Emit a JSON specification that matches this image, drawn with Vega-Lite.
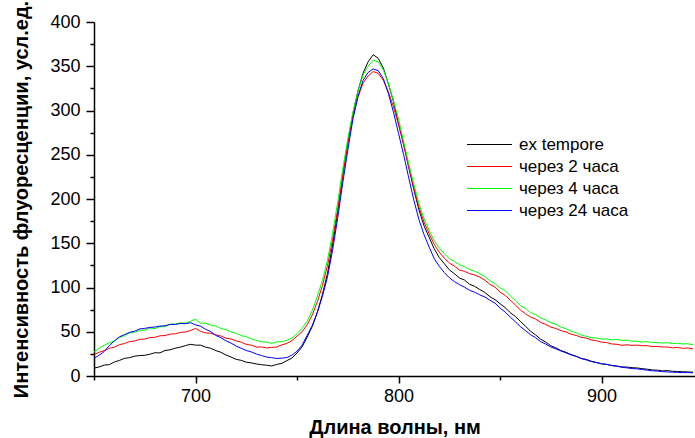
{
"$schema": "https://vega.github.io/schema/vega-lite/v6.json",
"width": 601, "height": 354,
"autosize": "none",
"padding": {"left": 94, "top": 22, "right": 0, "bottom": 62},
"background": "white",
"config": {"view": {"stroke": null}, "font": "Liberation Sans",
 "axis": {"grid": false, "domainColor": "#000", "tickColor": "#000", "labelColor": "#000", "titleColor": "#000", "labelFont": "Liberation Sans", "titleFont": "Liberation Sans", "domainWidth": 1.5, "tickWidth": 1.5, "labelFontSize": 18, "titleFontSize": 20, "titleFontWeight": "bold"}},
"data": {"values": [
{"w":650,"s":"ex tempore","v":9},{"w":652.5,"s":"ex tempore","v":10.2},{"w":655,"s":"ex tempore","v":12.3},{"w":657.5,"s":"ex tempore","v":12.8},{"w":660,"s":"ex tempore","v":15.8},{"w":662.5,"s":"ex tempore","v":17.6},{"w":665,"s":"ex tempore","v":19.9},{"w":667.5,"s":"ex tempore","v":20.7},{"w":670,"s":"ex tempore","v":22.4},{"w":672.5,"s":"ex tempore","v":23.1},{"w":675,"s":"ex tempore","v":23.4},{"w":677.5,"s":"ex tempore","v":24.6},{"w":680,"s":"ex tempore","v":26.3},{"w":682.5,"s":"ex tempore","v":26.1},{"w":685,"s":"ex tempore","v":28.9},{"w":687.5,"s":"ex tempore","v":29.6},{"w":690,"s":"ex tempore","v":31.4},{"w":692.5,"s":"ex tempore","v":32.6},{"w":695,"s":"ex tempore","v":34.3},{"w":697.5,"s":"ex tempore","v":35.8},{"w":700,"s":"ex tempore","v":34.9},{"w":702.5,"s":"ex tempore","v":34.8},{"w":705,"s":"ex tempore","v":32.6},{"w":707.5,"s":"ex tempore","v":31.3},{"w":710,"s":"ex tempore","v":28.7},{"w":712.5,"s":"ex tempore","v":26.8},{"w":715,"s":"ex tempore","v":23.7},{"w":717.5,"s":"ex tempore","v":21.4},{"w":720,"s":"ex tempore","v":18.8},{"w":722.5,"s":"ex tempore","v":17.7},{"w":725,"s":"ex tempore","v":15.6},{"w":727.5,"s":"ex tempore","v":14.8},{"w":730,"s":"ex tempore","v":13.6},{"w":732.5,"s":"ex tempore","v":12.7},{"w":735,"s":"ex tempore","v":12.2},{"w":737.5,"s":"ex tempore","v":11.3},{"w":740,"s":"ex tempore","v":13.1},{"w":742.5,"s":"ex tempore","v":14.3},{"w":745,"s":"ex tempore","v":17.4},{"w":747.5,"s":"ex tempore","v":20.2},{"w":750,"s":"ex tempore","v":26},{"w":752.5,"s":"ex tempore","v":33},{"w":755,"s":"ex tempore","v":44},{"w":757.5,"s":"ex tempore","v":56},{"w":760,"s":"ex tempore","v":72},{"w":762.5,"s":"ex tempore","v":92},{"w":765,"s":"ex tempore","v":116},{"w":767.5,"s":"ex tempore","v":148},{"w":770,"s":"ex tempore","v":185},{"w":772.5,"s":"ex tempore","v":226},{"w":775,"s":"ex tempore","v":264},{"w":777.5,"s":"ex tempore","v":296},{"w":780,"s":"ex tempore","v":322},{"w":782.5,"s":"ex tempore","v":342},{"w":785,"s":"ex tempore","v":355},{"w":787.5,"s":"ex tempore","v":363},{"w":790,"s":"ex tempore","v":359},{"w":792.5,"s":"ex tempore","v":348},{"w":795,"s":"ex tempore","v":330},{"w":797.5,"s":"ex tempore","v":310},{"w":800,"s":"ex tempore","v":285},{"w":802.5,"s":"ex tempore","v":262},{"w":805,"s":"ex tempore","v":236},{"w":807.5,"s":"ex tempore","v":211},{"w":810,"s":"ex tempore","v":188},{"w":812.5,"s":"ex tempore","v":170},{"w":815,"s":"ex tempore","v":157},{"w":817.5,"s":"ex tempore","v":144},{"w":820,"s":"ex tempore","v":134},{"w":822.5,"s":"ex tempore","v":127},{"w":825,"s":"ex tempore","v":120},{"w":827.5,"s":"ex tempore","v":115.6},{"w":830,"s":"ex tempore","v":110.7},{"w":832.5,"s":"ex tempore","v":108.4},{"w":835,"s":"ex tempore","v":103.6},{"w":837.5,"s":"ex tempore","v":101.3},{"w":840,"s":"ex tempore","v":97.7},{"w":842.5,"s":"ex tempore","v":94.4},{"w":845,"s":"ex tempore","v":89.6},{"w":847.5,"s":"ex tempore","v":86.3},{"w":850,"s":"ex tempore","v":81.6},{"w":852.5,"s":"ex tempore","v":77.3},{"w":855,"s":"ex tempore","v":71.6},{"w":857.5,"s":"ex tempore","v":67.4},{"w":860,"s":"ex tempore","v":61.7},{"w":862.5,"s":"ex tempore","v":56.3},{"w":865,"s":"ex tempore","v":50.6},{"w":867.5,"s":"ex tempore","v":46.4},{"w":870,"s":"ex tempore","v":41.6},{"w":872.5,"s":"ex tempore","v":38.3},{"w":875,"s":"ex tempore","v":34.2},{"w":877.5,"s":"ex tempore","v":31.8},{"w":880,"s":"ex tempore","v":28.7},{"w":882.5,"s":"ex tempore","v":26.8},{"w":885,"s":"ex tempore","v":24.2},{"w":887.5,"s":"ex tempore","v":22.3},{"w":890,"s":"ex tempore","v":19.7},{"w":892.5,"s":"ex tempore","v":18.8},{"w":895,"s":"ex tempore","v":16.6},{"w":897.5,"s":"ex tempore","v":15.3},{"w":900,"s":"ex tempore","v":13.7},{"w":902.5,"s":"ex tempore","v":13.2},{"w":905,"s":"ex tempore","v":11.8},{"w":907.5,"s":"ex tempore","v":11.2},{"w":910,"s":"ex tempore","v":10.3},{"w":912.5,"s":"ex tempore","v":10.1},{"w":915,"s":"ex tempore","v":9.4},{"w":917.5,"s":"ex tempore","v":9.1},{"w":920,"s":"ex tempore","v":8.3},{"w":922.5,"s":"ex tempore","v":7.7},{"w":925,"s":"ex tempore","v":6.8},{"w":927.5,"s":"ex tempore","v":6.6},{"w":930,"s":"ex tempore","v":5.8},{"w":932.5,"s":"ex tempore","v":6.1},{"w":935,"s":"ex tempore","v":5.3},{"w":937.5,"s":"ex tempore","v":5.1},{"w":940,"s":"ex tempore","v":4.8},{"w":942.5,"s":"ex tempore","v":4.6},{"w":945,"s":"ex tempore","v":4.3},
{"w":650,"s":"через 2 часа","v":24},{"w":652.5,"s":"через 2 часа","v":26.8},{"w":655,"s":"через 2 часа","v":28.7},{"w":657.5,"s":"через 2 часа","v":31.3},{"w":660,"s":"через 2 часа","v":32.6},{"w":662.5,"s":"через 2 часа","v":35.4},{"w":665,"s":"через 2 часа","v":36.7},{"w":667.5,"s":"через 2 часа","v":38.9},{"w":670,"s":"через 2 часа","v":39.6},{"w":672.5,"s":"через 2 часа","v":41.4},{"w":675,"s":"через 2 часа","v":41.7},{"w":677.5,"s":"через 2 часа","v":43.4},{"w":680,"s":"через 2 часа","v":43.7},{"w":682.5,"s":"через 2 часа","v":45.4},{"w":685,"s":"через 2 часа","v":45.7},{"w":687.5,"s":"через 2 часа","v":47.4},{"w":690,"s":"через 2 часа","v":47.6},{"w":692.5,"s":"через 2 часа","v":49.3},{"w":695,"s":"через 2 часа","v":49.7},{"w":697.5,"s":"через 2 часа","v":51.4},{"w":700,"s":"через 2 часа","v":53.8},{"w":702.5,"s":"через 2 часа","v":50.3},{"w":705,"s":"через 2 часа","v":48.7},{"w":707.5,"s":"через 2 часа","v":48.3},{"w":710,"s":"через 2 часа","v":46.6},{"w":712.5,"s":"через 2 часа","v":45.2},{"w":715,"s":"через 2 часа","v":42.7},{"w":717.5,"s":"через 2 часа","v":41.8},{"w":720,"s":"через 2 часа","v":39.6},{"w":722.5,"s":"через 2 часа","v":38.3},{"w":725,"s":"через 2 часа","v":35.7},{"w":727.5,"s":"через 2 часа","v":34.8},{"w":730,"s":"через 2 часа","v":32.7},{"w":732.5,"s":"через 2 часа","v":32.8},{"w":735,"s":"через 2 часа","v":31.7},{"w":737.5,"s":"через 2 часа","v":32.3},{"w":740,"s":"через 2 часа","v":32.8},{"w":742.5,"s":"через 2 часа","v":35.2},{"w":745,"s":"через 2 часа","v":36.8},{"w":747.5,"s":"через 2 часа","v":40},{"w":750,"s":"через 2 часа","v":45},{"w":752.5,"s":"через 2 часа","v":50},{"w":755,"s":"через 2 часа","v":58},{"w":757.5,"s":"через 2 часа","v":69},{"w":760,"s":"через 2 часа","v":84},{"w":762.5,"s":"через 2 часа","v":102},{"w":765,"s":"через 2 часа","v":125},{"w":767.5,"s":"через 2 часа","v":154},{"w":770,"s":"через 2 часа","v":188},{"w":772.5,"s":"через 2 часа","v":226},{"w":775,"s":"через 2 часа","v":262},{"w":777.5,"s":"через 2 часа","v":292},{"w":780,"s":"через 2 часа","v":315},{"w":782.5,"s":"через 2 часа","v":331},{"w":785,"s":"через 2 часа","v":339},{"w":787.5,"s":"через 2 часа","v":344},{"w":790,"s":"через 2 часа","v":342},{"w":792.5,"s":"через 2 часа","v":334},{"w":795,"s":"через 2 часа","v":321},{"w":797.5,"s":"через 2 часа","v":304},{"w":800,"s":"через 2 часа","v":284},{"w":802.5,"s":"через 2 часа","v":261},{"w":805,"s":"через 2 часа","v":236},{"w":807.5,"s":"через 2 часа","v":213},{"w":810,"s":"через 2 часа","v":191},{"w":812.5,"s":"через 2 часа","v":174},{"w":815,"s":"через 2 часа","v":161},{"w":817.5,"s":"через 2 часа","v":149},{"w":820,"s":"через 2 часа","v":140},{"w":822.5,"s":"через 2 часа","v":133.3},{"w":825,"s":"через 2 часа","v":127.6},{"w":827.5,"s":"через 2 часа","v":124.2},{"w":830,"s":"через 2 часа","v":119.7},{"w":832.5,"s":"через 2 часа","v":118.3},{"w":835,"s":"через 2 часа","v":115.6},{"w":837.5,"s":"через 2 часа","v":114.2},{"w":840,"s":"через 2 часа","v":111.7},{"w":842.5,"s":"через 2 часа","v":108.3},{"w":845,"s":"через 2 часа","v":103.6},{"w":847.5,"s":"через 2 часа","v":100.3},{"w":850,"s":"через 2 часа","v":94.7},{"w":852.5,"s":"через 2 часа","v":91.2},{"w":855,"s":"через 2 часа","v":85.6},{"w":857.5,"s":"через 2 часа","v":80.3},{"w":860,"s":"через 2 часа","v":74.6},{"w":862.5,"s":"через 2 часа","v":70.3},{"w":865,"s":"через 2 часа","v":66.6},{"w":867.5,"s":"через 2 часа","v":64.3},{"w":870,"s":"через 2 часа","v":60.6},{"w":872.5,"s":"через 2 часа","v":58.3},{"w":875,"s":"через 2 часа","v":55.2},{"w":877.5,"s":"через 2 часа","v":53.7},{"w":880,"s":"через 2 часа","v":51.2},{"w":882.5,"s":"через 2 часа","v":49.8},{"w":885,"s":"через 2 часа","v":47.2},{"w":887.5,"s":"через 2 часа","v":45.8},{"w":890,"s":"через 2 часа","v":43.7},{"w":892.5,"s":"через 2 часа","v":42.8},{"w":895,"s":"через 2 часа","v":40.7},{"w":897.5,"s":"через 2 часа","v":39.8},{"w":900,"s":"через 2 часа","v":38.2},{"w":902.5,"s":"через 2 часа","v":37.8},{"w":905,"s":"через 2 часа","v":36.2},{"w":907.5,"s":"через 2 часа","v":35.8},{"w":910,"s":"через 2 часа","v":34.7},{"w":912.5,"s":"через 2 часа","v":35.3},{"w":915,"s":"через 2 часа","v":34.6},{"w":917.5,"s":"через 2 часа","v":34.9},{"w":920,"s":"через 2 часа","v":34.2},{"w":922.5,"s":"через 2 часа","v":34.3},{"w":925,"s":"через 2 часа","v":33.2},{"w":927.5,"s":"через 2 часа","v":33.4},{"w":930,"s":"через 2 часа","v":32.7},{"w":932.5,"s":"через 2 часа","v":32.8},{"w":935,"s":"через 2 часа","v":31.8},{"w":937.5,"s":"через 2 часа","v":32.2},{"w":940,"s":"через 2 часа","v":31.3},{"w":942.5,"s":"через 2 часа","v":31.7},{"w":945,"s":"через 2 часа","v":30.8},
{"w":650,"s":"через 4 часа","v":27},{"w":652.5,"s":"через 4 часа","v":31.5},{"w":655,"s":"через 4 часа","v":34.6},{"w":657.5,"s":"через 4 часа","v":37.8},{"w":660,"s":"через 4 часа","v":39.4},{"w":662.5,"s":"через 4 часа","v":43.6},{"w":665,"s":"через 4 часа","v":45.5},{"w":667.5,"s":"через 4 часа","v":48.7},{"w":670,"s":"через 4 часа","v":49.4},{"w":672.5,"s":"через 4 часа","v":51.6},{"w":675,"s":"через 4 часа","v":51.8},{"w":677.5,"s":"через 4 часа","v":54.2},{"w":680,"s":"через 4 часа","v":53.6},{"w":682.5,"s":"через 4 часа","v":55.8},{"w":685,"s":"через 4 часа","v":55.7},{"w":687.5,"s":"через 4 часа","v":58.6},{"w":690,"s":"через 4 часа","v":58.7},{"w":692.5,"s":"через 4 часа","v":60.1},{"w":695,"s":"через 4 часа","v":59.6},{"w":697.5,"s":"через 4 часа","v":61.8},{"w":700,"s":"через 4 часа","v":64.3},{"w":702.5,"s":"через 4 часа","v":59.8},{"w":705,"s":"через 4 часа","v":59.6},{"w":707.5,"s":"через 4 часа","v":57.6},{"w":710,"s":"через 4 часа","v":56.5},{"w":712.5,"s":"через 4 часа","v":53.7},{"w":715,"s":"через 4 часа","v":52.4},{"w":717.5,"s":"через 4 часа","v":49.8},{"w":720,"s":"через 4 часа","v":48.3},{"w":722.5,"s":"через 4 часа","v":45.6},{"w":725,"s":"через 4 часа","v":44.4},{"w":727.5,"s":"через 4 часа","v":41.7},{"w":730,"s":"через 4 часа","v":40.3},{"w":732.5,"s":"через 4 часа","v":38.6},{"w":735,"s":"через 4 часа","v":38.4},{"w":737.5,"s":"через 4 часа","v":36.8},{"w":740,"s":"через 4 часа","v":38.5},{"w":742.5,"s":"через 4 часа","v":38.8},{"w":745,"s":"через 4 часа","v":40.4},{"w":747.5,"s":"через 4 часа","v":43},{"w":750,"s":"через 4 часа","v":48},{"w":752.5,"s":"через 4 часа","v":54},{"w":755,"s":"через 4 часа","v":62},{"w":757.5,"s":"через 4 часа","v":74},{"w":760,"s":"через 4 часа","v":90},{"w":762.5,"s":"через 4 часа","v":108},{"w":765,"s":"через 4 часа","v":131},{"w":767.5,"s":"через 4 часа","v":161},{"w":770,"s":"через 4 часа","v":196},{"w":772.5,"s":"через 4 часа","v":234},{"w":775,"s":"через 4 часа","v":268},{"w":777.5,"s":"через 4 часа","v":298},{"w":780,"s":"через 4 часа","v":322},{"w":782.5,"s":"через 4 часа","v":340},{"w":785,"s":"через 4 часа","v":350},{"w":787.5,"s":"через 4 часа","v":357},{"w":790,"s":"через 4 часа","v":355},{"w":792.5,"s":"через 4 часа","v":346},{"w":795,"s":"через 4 часа","v":330},{"w":797.5,"s":"через 4 часа","v":311},{"w":800,"s":"через 4 часа","v":290},{"w":802.5,"s":"через 4 часа","v":265},{"w":805,"s":"через 4 часа","v":240},{"w":807.5,"s":"через 4 часа","v":217},{"w":810,"s":"через 4 часа","v":195},{"w":812.5,"s":"через 4 часа","v":178},{"w":815,"s":"через 4 часа","v":165},{"w":817.5,"s":"через 4 часа","v":153},{"w":820,"s":"через 4 часа","v":145},{"w":822.5,"s":"через 4 часа","v":138.4},{"w":825,"s":"через 4 часа","v":132.6},{"w":827.5,"s":"через 4 часа","v":129.4},{"w":830,"s":"через 4 часа","v":125.7},{"w":832.5,"s":"через 4 часа","v":123.4},{"w":835,"s":"через 4 часа","v":120.2},{"w":837.5,"s":"через 4 часа","v":118.5},{"w":840,"s":"через 4 часа","v":115.6},{"w":842.5,"s":"через 4 часа","v":112.4},{"w":845,"s":"через 4 часа","v":107.6},{"w":847.5,"s":"через 4 часа","v":104.3},{"w":850,"s":"через 4 часа","v":99.6},{"w":852.5,"s":"через 4 часа","v":96.4},{"w":855,"s":"через 4 часа","v":90.6},{"w":857.5,"s":"через 4 часа","v":85.4},{"w":860,"s":"через 4 часа","v":79.6},{"w":862.5,"s":"через 4 часа","v":76.3},{"w":865,"s":"через 4 часа","v":71.7},{"w":867.5,"s":"через 4 часа","v":69.4},{"w":870,"s":"через 4 часа","v":65.6},{"w":872.5,"s":"через 4 часа","v":63.4},{"w":875,"s":"через 4 часа","v":60.2},{"w":877.5,"s":"через 4 часа","v":58.4},{"w":880,"s":"через 4 часа","v":55.2},{"w":882.5,"s":"через 4 часа","v":53.4},{"w":885,"s":"через 4 часа","v":50.6},{"w":887.5,"s":"через 4 часа","v":48.9},{"w":890,"s":"через 4 часа","v":46.2},{"w":892.5,"s":"через 4 часа","v":44.8},{"w":895,"s":"через 4 часа","v":43.2},{"w":897.5,"s":"через 4 часа","v":42.9},{"w":900,"s":"через 4 часа","v":41.7},{"w":902.5,"s":"через 4 часа","v":41.9},{"w":905,"s":"через 4 часа","v":40.7},{"w":907.5,"s":"через 4 часа","v":41.4},{"w":910,"s":"через 4 часа","v":40.2},{"w":912.5,"s":"через 4 часа","v":40.5},{"w":915,"s":"через 4 часа","v":39.2},{"w":917.5,"s":"через 4 часа","v":39.4},{"w":920,"s":"через 4 часа","v":38.3},{"w":922.5,"s":"через 4 часа","v":38.9},{"w":925,"s":"через 4 часа","v":37.7},{"w":927.5,"s":"через 4 часа","v":37.9},{"w":930,"s":"через 4 часа","v":37.2},{"w":932.5,"s":"через 4 часа","v":37.6},{"w":935,"s":"через 4 часа","v":36.7},{"w":937.5,"s":"через 4 часа","v":37.1},{"w":940,"s":"через 4 часа","v":36.2},{"w":942.5,"s":"через 4 часа","v":36.5},{"w":945,"s":"через 4 часа","v":35.2},
{"w":650,"s":"через 24 часа","v":20},{"w":652.5,"s":"через 24 часа","v":23.4},{"w":655,"s":"через 24 часа","v":27.6},{"w":657.5,"s":"через 24 часа","v":34.3},{"w":660,"s":"через 24 часа","v":39.6},{"w":662.5,"s":"через 24 часа","v":44.2},{"w":665,"s":"через 24 часа","v":46.7},{"w":667.5,"s":"через 24 часа","v":49.3},{"w":670,"s":"через 24 часа","v":50.6},{"w":672.5,"s":"через 24 часа","v":53.2},{"w":675,"s":"через 24 часа","v":53.8},{"w":677.5,"s":"через 24 часа","v":54.9},{"w":680,"s":"через 24 часа","v":55.3},{"w":682.5,"s":"через 24 часа","v":56.4},{"w":685,"s":"через 24 часа","v":56.8},{"w":687.5,"s":"через 24 часа","v":58.3},{"w":690,"s":"через 24 часа","v":58.2},{"w":692.5,"s":"через 24 часа","v":59.4},{"w":695,"s":"через 24 часа","v":59.1},{"w":697.5,"s":"через 24 часа","v":60.2},{"w":700,"s":"через 24 часа","v":57.8},{"w":702.5,"s":"через 24 часа","v":56.3},{"w":705,"s":"через 24 часа","v":52.7},{"w":707.5,"s":"через 24 часа","v":50.2},{"w":710,"s":"через 24 часа","v":45.8},{"w":712.5,"s":"через 24 часа","v":43.3},{"w":715,"s":"через 24 часа","v":39.7},{"w":717.5,"s":"через 24 часа","v":37.2},{"w":720,"s":"через 24 часа","v":33.8},{"w":722.5,"s":"через 24 часа","v":31.3},{"w":725,"s":"через 24 часа","v":28.8},{"w":727.5,"s":"через 24 часа","v":27.2},{"w":730,"s":"через 24 часа","v":24.8},{"w":732.5,"s":"через 24 часа","v":23.1},{"w":735,"s":"через 24 часа","v":21.4},{"w":737.5,"s":"через 24 часа","v":20.7},{"w":740,"s":"через 24 часа","v":19.8},{"w":742.5,"s":"через 24 часа","v":20.2},{"w":745,"s":"через 24 часа","v":20.9},{"w":747.5,"s":"через 24 часа","v":23.6},{"w":750,"s":"через 24 часа","v":28},{"w":752.5,"s":"через 24 часа","v":35},{"w":755,"s":"через 24 часа","v":46},{"w":757.5,"s":"через 24 часа","v":57},{"w":760,"s":"через 24 часа","v":72},{"w":762.5,"s":"через 24 часа","v":90},{"w":765,"s":"через 24 часа","v":112},{"w":767.5,"s":"через 24 часа","v":142},{"w":770,"s":"через 24 часа","v":178},{"w":772.5,"s":"через 24 часа","v":218},{"w":775,"s":"через 24 часа","v":255},{"w":777.5,"s":"через 24 часа","v":290},{"w":780,"s":"через 24 часа","v":316},{"w":782.5,"s":"через 24 часа","v":334},{"w":785,"s":"через 24 часа","v":343},{"w":787.5,"s":"через 24 часа","v":347},{"w":790,"s":"через 24 часа","v":345},{"w":792.5,"s":"через 24 часа","v":336},{"w":795,"s":"через 24 часа","v":319},{"w":797.5,"s":"через 24 часа","v":298},{"w":800,"s":"через 24 часа","v":274},{"w":802.5,"s":"через 24 часа","v":250},{"w":805,"s":"через 24 часа","v":224},{"w":807.5,"s":"через 24 часа","v":199},{"w":810,"s":"через 24 часа","v":177},{"w":812.5,"s":"через 24 часа","v":160},{"w":815,"s":"через 24 часа","v":146},{"w":817.5,"s":"через 24 часа","v":133},{"w":820,"s":"через 24 часа","v":124},{"w":822.5,"s":"через 24 часа","v":117},{"w":825,"s":"через 24 часа","v":111},{"w":827.5,"s":"через 24 часа","v":106.7},{"w":830,"s":"через 24 часа","v":103.2},{"w":832.5,"s":"через 24 часа","v":100.3},{"w":835,"s":"через 24 часа","v":96.8},{"w":837.5,"s":"через 24 часа","v":94.6},{"w":840,"s":"через 24 часа","v":91.7},{"w":842.5,"s":"через 24 часа","v":89.2},{"w":845,"s":"через 24 часа","v":85.6},{"w":847.5,"s":"через 24 часа","v":82.3},{"w":850,"s":"через 24 часа","v":76.8},{"w":852.5,"s":"через 24 часа","v":72.2},{"w":855,"s":"через 24 часа","v":66.7},{"w":857.5,"s":"через 24 часа","v":61.3},{"w":860,"s":"через 24 часа","v":55.8},{"w":862.5,"s":"через 24 часа","v":51.2},{"w":865,"s":"через 24 часа","v":46.7},{"w":867.5,"s":"через 24 часа","v":43.2},{"w":870,"s":"через 24 часа","v":38.8},{"w":872.5,"s":"через 24 часа","v":36.1},{"w":875,"s":"через 24 часа","v":32.8},{"w":877.5,"s":"через 24 часа","v":30.6},{"w":880,"s":"через 24 часа","v":28.3},{"w":882.5,"s":"через 24 часа","v":26.1},{"w":885,"s":"через 24 часа","v":23.8},{"w":887.5,"s":"через 24 часа","v":22.1},{"w":890,"s":"через 24 часа","v":19.8},{"w":892.5,"s":"через 24 часа","v":18.1},{"w":895,"s":"через 24 часа","v":16.3},{"w":897.5,"s":"через 24 часа","v":15.1},{"w":900,"s":"через 24 часа","v":13.8},{"w":902.5,"s":"через 24 часа","v":13.1},{"w":905,"s":"через 24 часа","v":11.8},{"w":907.5,"s":"через 24 часа","v":11.1},{"w":910,"s":"через 24 часа","v":9.8},{"w":912.5,"s":"через 24 часа","v":9.2},{"w":915,"s":"через 24 часа","v":8.4},{"w":917.5,"s":"через 24 часа","v":8.1},{"w":920,"s":"через 24 часа","v":7.3},{"w":922.5,"s":"через 24 часа","v":6.6},{"w":925,"s":"через 24 часа","v":5.8},{"w":927.5,"s":"через 24 часа","v":5.6},{"w":930,"s":"через 24 часа","v":4.9},{"w":932.5,"s":"через 24 часа","v":4.6},{"w":935,"s":"через 24 часа","v":4.3},{"w":937.5,"s":"через 24 часа","v":4.1},{"w":940,"s":"через 24 часа","v":3.8},{"w":942.5,"s":"через 24 часа","v":3.9},{"w":945,"s":"через 24 часа","v":3.6}
]},
"mark": {"type": "line", "strokeWidth": 1, "clip": true},
"encoding": {
 "x": {"field": "w", "type": "quantitative", "title": "Длина волны, нм",
  "scale": {"domain": [650, 946], "nice": false, "zero": false},
  "axis": {"values": [650, 700, 750, 800, 850, 900], "labelExpr": "datum.value % 100 === 0 ? datum.label : ''",
   "tickSize": {"condition": {"test": "datum.value % 100 === 0", "value": 7}, "value": 4},
   "labelPadding": 4, "titlePadding": 12, "labelFlush": false}},
 "y": {"field": "v", "type": "quantitative", "title": "Интенсивность флуоресценции, усл.ед.",
  "scale": {"domain": [0, 400], "nice": false},
  "axis": {"values": [0,25,50,75,100,125,150,175,200,225,250,275,300,325,350,375,400], "labelExpr": "datum.value % 50 === 0 ? datum.label : ''",
   "tickSize": {"condition": {"test": "datum.value % 50 === 0", "value": 8}, "value": 4},
   "labelPadding": 6, "titlePadding": 18, "labelFlush": false}},
 "color": {"field": "s", "type": "nominal",
  "scale": {"domain": ["ex tempore", "через 2 часа", "через 4 часа", "через 24 часа"], "range": ["#000000", "#ff0000", "#00ff00", "#0000ff"]},
  "legend": {"title": null, "orient": "none", "legendX": 372, "legendY": 114, "symbolType": "M-1,0H5", "symbolSize": 225, "symbolStrokeWidth": 1, "labelFont": "Liberation Sans", "labelFontSize": 17, "labelColor": "#000", "labelOffset": 36, "rowPadding": 4}}
}
}
